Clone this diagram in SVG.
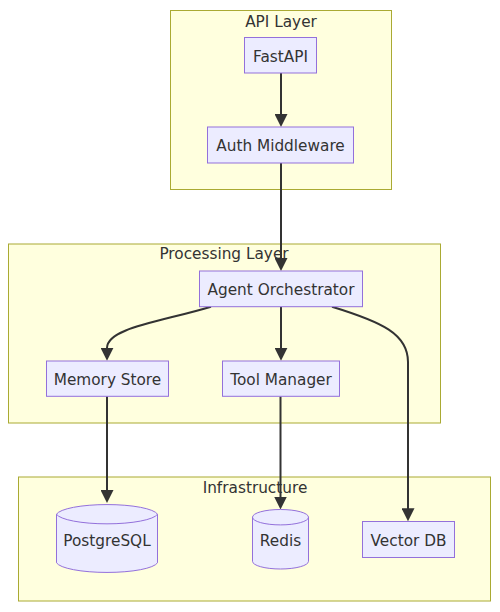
<svg xmlns="http://www.w3.org/2000/svg" width="500" height="612" viewBox="0 0 500 612">
<style>
.cluster{fill:#ffffde;stroke:#aaaa33;stroke-width:1}
.node{fill:#ECECFF;stroke:#9370DB;stroke-width:1}
.lbl{font-family:"DejaVu Sans","Liberation Sans",sans-serif;font-size:15.3px;fill:#333333;text-anchor:middle}
.edge{fill:none;stroke:#333333;stroke-width:2}
</style>
<defs>
<marker id="arrow" viewBox="0 0 13 13" refX="9" refY="6.5" markerWidth="13" markerHeight="13" markerUnits="userSpaceOnUse" orient="auto">
<path d="M0,0 L13,6.5 L0,13 z" fill="#333333"/>
</marker>
</defs>
<g id="clusters">
<g id="cluster-api"><rect class="cluster" x="170.5" y="10.5" width="221" height="179"/><text class="lbl" x="281" y="27">API Layer</text></g>
<g id="cluster-processing"><rect class="cluster" x="8.5" y="244" width="432" height="179"/><text class="lbl" x="224" y="259">Processing Layer</text></g>
<g id="cluster-infra"><rect class="cluster" x="18.5" y="477" width="472" height="124"/><text class="lbl" x="255" y="493">Infrastructure</text></g>
</g>
<g id="edges">
<path class="edge" d="M281,73 L281,123" marker-end="url(#arrow)"/>
<path class="edge" d="M281,163 L281,267" marker-end="url(#arrow)"/>
<path class="edge" d="M211,306.7 C160,322 107,328 107,348 L107,356.7" marker-end="url(#arrow)"/>
<path class="edge" d="M281,306.7 L281,356.7" marker-end="url(#arrow)"/>
<path class="edge" d="M332,306.7 C382,322 408,334 408,362 L408,517.3" marker-end="url(#arrow)"/>
<path class="edge" d="M107,396.3 L107,499" marker-end="url(#arrow)"/>
<path class="edge" d="M280.5,396.3 L280.5,505.5" marker-end="url(#arrow)"/>
</g>
<g id="node-fastapi"><rect class="node" x="244.5" y="37.5" width="72" height="35.5"/><text class="lbl" x="280.5" y="61.5">FastAPI</text></g>
<g id="node-auth"><rect class="node" x="207.5" y="127" width="146" height="36"/><text class="lbl" x="280.5" y="151.3">Auth Middleware</text></g>
<g id="node-agent"><rect class="node" x="199.5" y="271" width="163" height="35.7"/><text class="lbl" x="281" y="295.2">Agent Orchestrator</text></g>
<g id="node-memory"><rect class="node" x="46.5" y="361" width="122" height="35.3"/><text class="lbl" x="107.5" y="385.2">Memory Store</text></g>
<g id="node-tool"><rect class="node" x="222.5" y="361" width="117" height="35.3"/><text class="lbl" x="281" y="385.2">Tool Manager</text></g>
<g id="node-postgres"><path class="node" d="M56.5,514.2 a51,11.2 0 0 0 101,0 a51,11.2 0 0 0 -101,0 l0,48.6 a51,11.2 0 0 0 101,0 l0,-48.6"/><text class="lbl" x="107" y="545.5">PostgreSQL</text></g>
<g id="node-redis"><path class="node" d="M252.5,517.2 a28,7.7 0 0 0 56,0 a28,7.7 0 0 0 -56,0 l0,44.1 a28,7.7 0 0 0 56,0 l0,-44.1"/><text class="lbl" x="280.5" y="545.5">Redis</text></g>
<g id="node-vector"><rect class="node" x="362.5" y="521.5" width="92" height="36"/><text class="lbl" x="408.5" y="545.5">Vector DB</text></g>
</svg>
